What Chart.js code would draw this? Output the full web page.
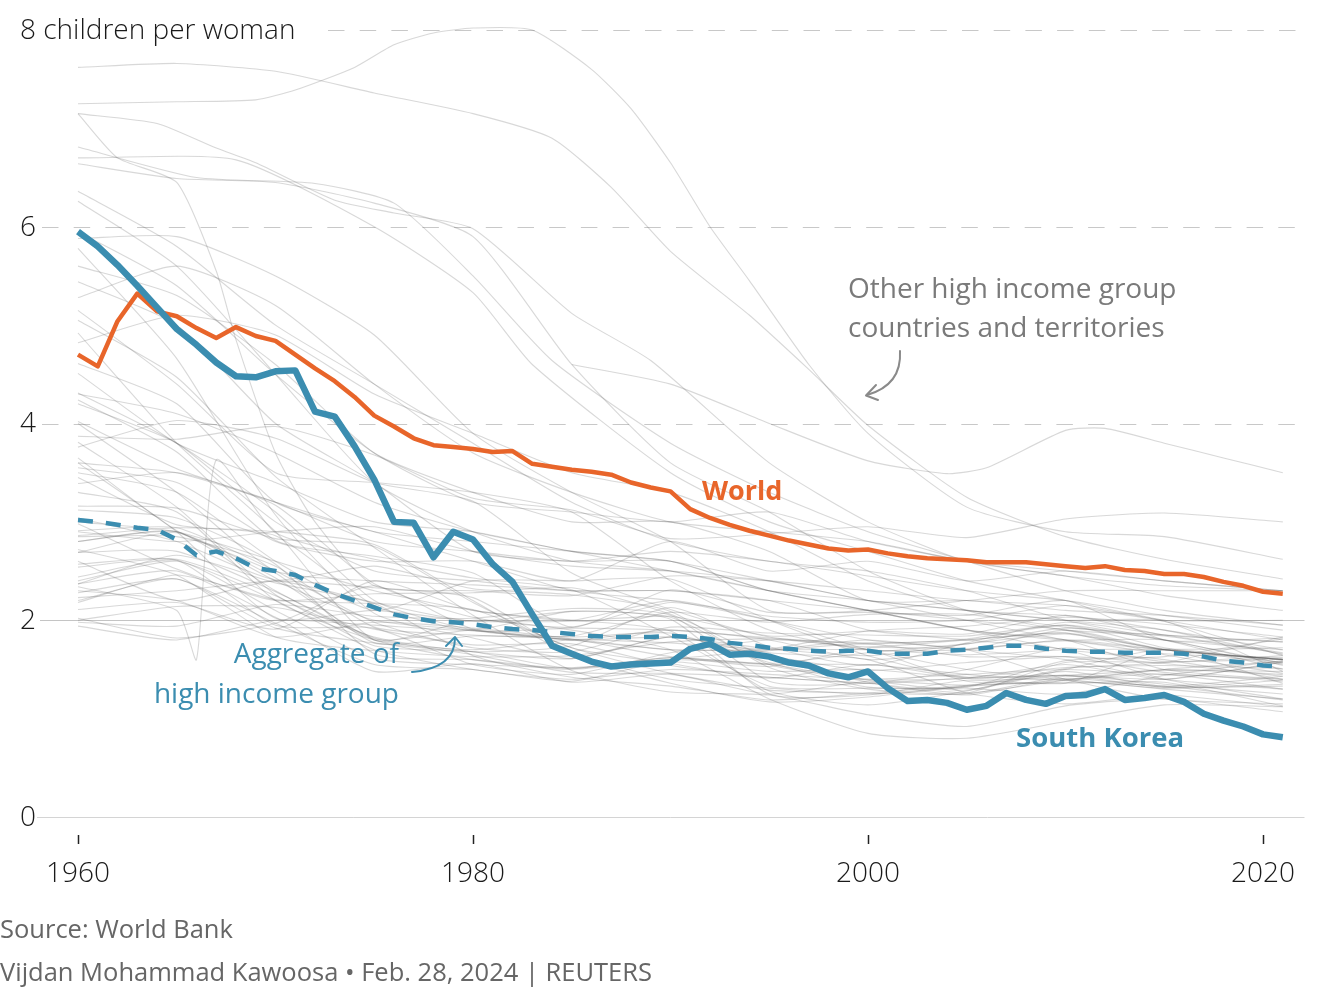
<!DOCTYPE html>
<html>
<head>
<meta charset="utf-8">
<script src="https://cdn.jsdelivr.net/npm/chart.js@4.4.1/dist/chart.umd.min.js"></script>
<style>
html,body{margin:0;padding:0;background:#fff;}
#wrap{position:relative;width:1320px;height:1000px;font-family:"Open Sans",sans-serif;overflow:hidden;}
#c{position:absolute;left:0;top:0;}
.t{position:absolute;white-space:nowrap;line-height:40px;height:40px;}
</style>
</head>
<body>
<div id="wrap">
<canvas id="c" width="1320" height="1000"></canvas>
<div class="t" style="left:848px;top:267px;font-size:28px;color:#7a7a7a;">Other high income group</div>
<div class="t" style="left:848px;top:306px;font-size:28px;color:#7a7a7a;">countries and territories</div>
<div class="t" style="left:702px;top:470px;font-size:27px;font-weight:700;color:#e8652a;">World</div>
<div class="t" style="left:1016px;top:717px;font-size:27.5px;font-weight:700;color:#3b8db0;">South Korea</div>
<div class="t" style="right:921px;top:632px;font-size:28px;color:#3b8db0;text-align:right;">Aggregate of</div>
<div class="t" style="right:921px;top:672px;font-size:28px;color:#3b8db0;text-align:right;">high income group</div>
<div class="t" style="left:0px;top:908px;font-size:25.5px;color:#666;">Source: World Bank</div>
<div class="t" style="left:0px;top:951px;font-size:25.5px;color:#666;">Vijdan Mohammad Kawoosa • Feb. 28, 2024 | REUTERS</div>
</div>
<script>
// ---------- DATA ----------
const years = [1960,1961,1962,1963,1964,1965,1966,1967,1968,1969,
               1970,1971,1972,1973,1974,1975,1976,1977,1978,1979,
               1980,1981,1982,1983,1984,1985,1986,1987,1988,1989,
               1990,1991,1992,1993,1994,1995,1996,1997,1998,1999,
               2000,2001,2002,2003,2004,2005,2006,2007,2008,2009,
               2010,2011,2012,2013,2014,2015,2016,2017,2018,2019,
               2020,2021];

const southKorea = [5.95,5.80,5.61,5.40,5.18,4.96,4.80,4.62,4.48,4.47,
                    4.53,4.54,4.12,4.07,3.77,3.43,3.00,2.99,2.64,2.90,
                    2.82,2.57,2.39,2.06,1.74,1.66,1.58,1.53,1.55,1.56,
                    1.57,1.71,1.76,1.65,1.66,1.63,1.57,1.54,1.46,1.42,
                    1.48,1.31,1.18,1.19,1.16,1.09,1.13,1.26,1.19,1.15,
                    1.23,1.24,1.30,1.19,1.21,1.24,1.17,1.05,0.98,0.92,
                    0.84,0.81];

const world = [4.70,4.58,5.04,5.32,5.14,5.09,4.97,4.87,4.98,4.89,
               4.84,4.70,4.56,4.43,4.27,4.08,3.97,3.85,3.78,3.76,
               3.74,3.71,3.72,3.59,3.56,3.53,3.51,3.48,3.40,3.35,
               3.31,3.13,3.04,2.97,2.91,2.86,2.81,2.77,2.73,2.71,
               2.72,2.68,2.65,2.63,2.62,2.61,2.59,2.59,2.59,2.57,
               2.55,2.53,2.55,2.51,2.50,2.47,2.47,2.44,2.39,2.35,
               2.29,2.27];

const highIncome = [3.02,3.00,2.97,2.94,2.92,2.82,2.66,2.70,2.63,2.53,
                    2.50,2.46,2.36,2.27,2.20,2.13,2.06,2.02,1.99,1.98,
                    1.96,1.93,1.91,1.90,1.88,1.86,1.84,1.83,1.83,1.83,
                    1.84,1.83,1.81,1.77,1.75,1.72,1.71,1.69,1.68,1.69,
                    1.69,1.66,1.66,1.66,1.69,1.70,1.72,1.74,1.74,1.71,
                    1.69,1.68,1.68,1.67,1.67,1.67,1.66,1.63,1.59,1.57,
                    1.54,1.53];

// other high income countries and territories, sampled every five years
const grayYears = [1960,1965,1970,1975,1980,1985,1990,1995,2000,2005,2010,2015,2021];
const otherCountries = [
  [2.00,2.14,2.13,1.91,1.75,1.76,1.54,1.42,1.36,1.26,1.39,1.45,1.30],
  [3.65,2.91,2.48,1.77,1.84,1.84,2.08,1.98,2.06,2.06,1.93,1.84,1.66],
  [2.69,2.89,2.43,1.81,1.90,1.80,1.83,1.71,1.64,1.76,1.92,1.80,1.56],
  [2.85,2.85,2.55,1.93,1.85,1.81,1.77,1.71,1.89,1.94,2.03,1.96,1.83],
  [2.37,2.50,2.03,1.48,1.56,1.37,1.45,1.25,1.38,1.34,1.39,1.50,1.58],
  [2.37,2.66,2.38,2.17,1.64,1.42,1.33,1.19,1.26,1.34,1.44,1.35,1.25],
  [2.86,2.94,2.90,2.77,2.20,1.64,1.36,1.17,1.22,1.33,1.37,1.33,1.19],
  [3.81,3.15,2.26,1.83,1.68,1.61,1.83,1.64,1.49,1.57,1.63,1.56,1.43],
  [3.45,2.97,2.86,2.15,1.89,1.92,1.90,1.82,1.76,1.81,1.95,1.80,1.70],
  [4.02,3.54,3.17,2.37,2.03,1.93,2.18,2.04,1.98,2.00,2.15,1.99,1.64],
  [3.12,3.04,2.57,1.66,1.60,1.51,1.62,1.53,1.72,1.71,1.79,1.66,1.62],
  [2.54,2.62,2.25,1.74,1.68,1.51,1.62,1.56,1.67,1.76,1.86,1.70,1.60],
  [2.20,2.42,1.92,1.77,1.68,1.74,2.13,1.73,1.54,1.77,1.98,1.85,1.67],
  [2.91,2.94,2.50,1.98,1.72,1.68,1.93,1.87,1.85,1.84,1.95,1.72,1.55],
  [2.57,2.61,1.95,1.92,1.55,1.45,1.67,1.80,1.77,1.80,1.87,1.71,1.72],
  [2.72,2.46,1.83,1.69,1.63,1.64,1.78,1.81,1.73,1.80,1.87,1.65,1.46],
  [4.24,3.71,2.81,2.65,2.48,1.93,2.31,2.08,2.08,2.05,2.20,1.80,1.82],
  [3.76,4.03,3.85,3.40,3.21,2.48,2.11,1.84,1.89,1.86,2.05,1.85,1.78],
  [2.69,2.70,2.29,1.82,1.65,1.47,1.46,1.42,1.36,1.41,1.44,1.49,1.48],
  [2.44,2.61,2.10,1.61,1.55,1.52,1.58,1.48,1.50,1.42,1.52,1.54,1.51],
  [3.16,3.14,2.83,2.75,2.18,1.72,1.56,1.41,1.55,1.41,1.39,1.31,1.35],
  [2.23,2.30,2.40,2.33,2.23,1.67,1.40,1.31,1.25,1.33,1.48,1.33,1.43],
  [3.87,3.84,3.97,3.68,3.24,3.12,2.83,2.88,2.95,2.84,3.03,3.09,3.00],
  [5.78,4.66,3.07,2.07,1.82,1.61,1.83,1.67,1.60,1.26,1.15,1.24,1.12],
  [5.05,4.47,3.46,2.74,2.05,1.49,1.27,1.24,1.04,0.92,1.13,1.20,1.07],
  [4.92,3.80,2.90,1.80,2.00,1.90,1.70,1.20,0.85,0.80,0.97,1.14,1.12],
  [2.11,2.18,1.91,2.40,2.10,2.00,1.89,1.28,1.14,1.28,1.51,1.57,1.83],
  [3.04,2.80,2.41,2.55,2.32,2.26,2.09,1.52,1.30,1.25,1.43,1.40,1.57],
  [2.02,1.82,1.97,2.35,1.91,1.83,1.87,1.57,1.32,1.31,1.25,1.44,1.59],
  [2.98,2.52,2.20,2.27,2.28,2.33,2.06,1.62,1.37,1.24,1.41,1.32,1.33],
  [2.30,2.20,1.83,1.98,1.92,1.81,1.63,1.55,1.40,1.41,1.55,1.40,1.58],
  [2.18,2.46,2.21,2.17,2.11,1.72,1.46,1.29,1.26,1.26,1.57,1.57,1.64],
  [1.98,1.94,2.16,2.04,2.02,2.12,2.05,1.38,1.36,1.50,1.72,1.58,1.61],
  [1.94,1.80,2.00,1.95,1.90,2.09,2.01,1.25,1.24,1.39,1.36,1.70,1.57],
  [2.60,2.20,2.40,2.18,1.99,2.09,2.03,1.55,1.39,1.29,1.50,1.70,1.36],
  [3.50,3.30,2.60,2.10,2.40,2.40,2.42,2.00,1.64,1.42,1.44,1.32,1.39],
  [3.60,2.90,2.02,2.10,1.99,1.99,2.04,1.83,1.70,1.38,1.36,1.37,1.13],
  [2.28,2.42,1.97,1.55,1.50,1.38,1.60,1.69,1.76,1.63,1.63,1.47,1.38],
  [5.44,5.00,4.00,3.40,2.70,2.60,2.60,2.30,2.10,1.90,1.80,1.80,1.54],
  [2.90,2.80,2.90,2.95,2.70,2.55,2.50,2.40,2.20,2.10,2.00,1.99,1.48],
  [5.28,5.60,5.20,4.40,3.70,3.30,3.00,2.90,2.80,2.60,2.50,2.40,2.30],
  [4.61,4.20,3.20,2.90,2.60,2.30,2.20,2.00,1.80,1.70,1.40,1.20,1.15],
  [5.15,4.40,3.50,3.40,3.30,3.10,2.40,1.90,1.70,1.70,1.80,1.70,1.60],
  [4.31,3.80,3.10,2.20,1.90,1.80,1.70,1.70,1.70,1.65,1.70,1.70,1.60],
  [4.51,3.80,3.40,3.00,2.90,2.70,2.60,2.30,2.10,1.90,1.80,1.50,1.40],
  [4.00,3.30,2.50,2.40,2.36,2.30,2.30,2.20,1.90,1.80,1.70,1.40,1.20],
  [6.64,6.49,6.45,6.24,5.90,4.60,3.60,3.10,2.50,2.10,1.90,1.85,1.78],
  [4.82,5.10,4.90,4.30,3.90,3.50,3.30,2.90,2.40,2.10,2.05,1.90,1.65],
  [3.39,3.50,3.20,2.80,2.70,2.60,2.70,2.60,2.45,2.30,2.20,2.05,1.90],
  [3.55,3.40,2.80,2.60,2.60,2.40,2.80,2.50,2.60,2.40,2.50,2.40,2.30],
  [3.30,3.10,2.20,1.80,1.70,1.80,1.70,1.70,1.80,1.70,1.60,1.40,1.30],
  [6.36,5.80,5.00,4.40,3.80,3.20,2.80,2.60,2.50,2.30,2.00,1.80,1.50],
  [6.26,5.60,4.50,3.40,2.90,2.60,2.50,2.30,2.10,1.90,1.70,1.60,1.40],
  [4.30,4.10,3.70,3.20,2.90,2.70,2.50,2.30,2.20,2.10,2.00,1.90,1.70],
  [5.95,5.40,4.50,3.70,3.20,3.10,3.00,3.10,2.80,2.60,2.45,2.35,2.30],
  [5.60,5.30,4.60,3.70,3.30,3.00,3.00,2.70,2.20,2.20,2.10,2.05,1.95],
  [4.20,3.80,3.00,2.50,2.40,2.30,2.30,2.20,2.10,2.00,1.90,1.70,1.60],
  [3.00,2.90,2.60,2.30,2.10,2.00,2.20,2.00,1.70,1.50,1.40,1.30,1.20],
  [2.80,2.90,2.40,2.00,1.90,1.80,1.90,1.80,1.60,1.70,1.90,1.70,1.60],
  [2.40,2.60,2.20,1.70,1.50,1.40,1.50,1.45,1.40,1.45,1.50,1.45,1.40],
  [2.80,2.90,2.30,1.80,1.60,1.50,1.60,1.55,1.55,1.45,1.40,1.50,1.45],
  [3.60,3.50,3.20,2.90,2.80,2.70,2.60,2.40,2.20,2.00,1.80,1.70,1.60],
  [5.88,5.90,5.50,4.90,3.90,3.30,2.80,2.10,2.10,2.20,2.30,2.30,2.30]
];

// distinctive lines with their own sampling years
const lineAYears = [1960,1965,1970,1975,1980,1984,1987,1990,1994,1997,2000,2005,2010,2015,2021];
const lineA      = [7.62,7.66,7.58,7.36,7.15,6.90,6.40,5.75,5.10,4.55,3.98,3.25,2.85,2.62,2.42];
const lineBYears = [1960,1965,1969,1971,1974,1976,1978,1980,1983,1986,1988,1990,1992,1994,1997,2000,2005,2010,2015,2021];
const lineB      = [7.25,7.27,7.29,7.39,7.62,7.85,7.97,8.02,8.00,7.60,7.20,6.65,6.00,5.45,4.60,3.90,3.15,2.90,2.85,2.62];
const lineCYears = [1960,1962,1965,1967,1968,1970,1972,1975,1980,1985,1990,1995,2000,2005,2010,2015,2021];
const lineC      = [7.15,6.70,6.45,5.55,4.85,3.70,3.00,2.35,2.30,2.25,2.45,2.40,2.30,2.20,2.15,2.00,2.00];
const lineDYears = [1960,1964,1967,1969,1973,1976,1980,1985,1989,1995,2000,2005,2010,2015,2021];
const lineD      = [7.15,7.05,6.80,6.65,6.27,6.14,5.98,5.12,4.64,3.60,3.00,2.60,2.45,2.25,2.10];
const lineEYears = [1960,1966,1972,1976,1980,1984,1990,1995,2000,2005,2010,2015,2021];
const lineE      = [6.81,6.50,6.44,6.24,5.50,4.64,3.80,3.30,2.90,2.60,2.30,2.10,1.95];
const lineFYears = [1960,1968,1975,1980,1983,1990,1995,2000,2005,2010,2015,2021];
const lineF      = [6.70,6.68,6.00,5.33,4.60,3.50,3.00,2.70,2.40,2.20,2.00,1.80];
const lineGYears = [1985,1990,1995,2000,2004,2006,2010,2012,2015,2018,2021];
const lineG      = [4.60,4.40,4.00,3.62,3.49,3.55,3.93,3.95,3.80,3.65,3.50];
const romaniaYears = [1960,1965,1966,1967,1970,1975,1980,1985,1990,1995,2000,2005,2010,2015,2021];
const romania      = [2.34,2.10,1.60,3.63,2.89,2.62,2.43,2.31,1.84,1.33,1.31,1.32,1.59,1.63,1.81];

const xTicks = [1960,1980,2000,2020];
const yTicks = [0,2,4,6,8];
const yTitle = 'children per woman';

// ---------- COLOURS ----------
const BLUE = '#3b8db0';
const ORANGE = '#e8652a';
const GRAY = 'rgba(85,85,85,0.23)';

function pts(xs, ys){ return xs.map((x,i)=>({x:x, y:ys[i]})); }

const grayDatasets = [];
otherCountries.forEach(v => grayDatasets.push(pts(grayYears, v)));
[[lineAYears,lineA],[lineBYears,lineB],[lineCYears,lineC],[lineDYears,lineD],
 [lineEYears,lineE],[lineFYears,lineF],[lineGYears,lineG],[romaniaYears,romania]]
 .forEach(p => grayDatasets.push(pts(p[0], p[1])));

const datasets = [
  {data: pts(years, southKorea), borderColor: BLUE, borderWidth: 6.5, order: 0},
  {data: pts(years, world), borderColor: ORANGE, borderWidth: 4.5, order: 1},
  {data: pts(years, highIncome), borderColor: BLUE, borderWidth: 4.5, borderDash: [15,13], order: 2}
].concat(grayDatasets.map(d => ({data: d, borderColor: GRAY, borderWidth: 1.1, tension: 0.2, order: 3})));

datasets.forEach(d => {
  d.pointRadius = 0; d.pointHoverRadius = 0; d.fill = false; d.clip = false;
  d.borderJoinStyle = 'round'; d.borderCapStyle = 'butt';
});

// horizontal reference lines drawn with the y scale
const hGrid = {
  id: 'hGrid',
  beforeDatasetsDraw(chart) {
    const {ctx, scales:{y}, chartArea} = chart;
    ctx.save();
    yTicks.forEach(v => {
      const py = Math.round(y.getPixelForValue(v)) + 0.5;
      ctx.beginPath();
      ctx.lineWidth = 1;
      let x0 = 42;
      if (v === 0) { ctx.strokeStyle = '#d4d4d4'; ctx.setLineDash([]); x0 = 37; }
      else if (v === 2) { ctx.strokeStyle = '#c4c4c4'; ctx.setLineDash([]); x0 = 40; }
      else { ctx.strokeStyle = '#c8c8c8'; ctx.setLineDash([16.5,15.2]); }
      if (v === 8) x0 = 328;
      ctx.moveTo(x0, py);
      ctx.lineTo(chartArea.right, py);
      ctx.stroke();
    });
    ctx.restore();
  },
  afterDatasetsDraw(chart) {
    const {ctx, scales:{y}} = chart;
    ctx.save();
    ctx.font = '300 28px "Open Sans"';
    ctx.fillStyle = '#1a1a1a';
    ctx.textAlign = 'left';
    ctx.textBaseline = 'middle';
    yTicks.forEach(v => {
      const label = v === 8 ? v + ' ' + yTitle : String(v);
      ctx.fillText(label, 20, y.getPixelForValue(v) + 1);
    });
    ctx.restore();
  }
};

// annotation arrows
const arrows = {
  id: 'arrows',
  afterDraw(chart) {
    const ctx = chart.ctx;
    ctx.save();
    ctx.lineWidth = 2; ctx.lineCap = 'round'; ctx.lineJoin = 'round';
    ctx.strokeStyle = '#8a8a8a';
    ctx.beginPath();
    ctx.moveTo(900, 351);
    ctx.quadraticCurveTo(902, 385, 867, 395);
    ctx.stroke();
    ctx.beginPath();
    ctx.moveTo(876, 385); ctx.lineTo(866, 395.5); ctx.lineTo(878, 400);
    ctx.stroke();
    ctx.strokeStyle = BLUE;
    ctx.beginPath();
    ctx.moveTo(412, 672);
    ctx.quadraticCurveTo(455, 668, 455, 638);
    ctx.stroke();
    ctx.beginPath();
    ctx.moveTo(446, 646); ctx.lineTo(455, 637); ctx.lineTo(462, 646);
    ctx.stroke();
    ctx.restore();
  }
};

new Chart(document.getElementById('c'), {
  type: 'line',
  data: {datasets: datasets},
  plugins: [hGrid, arrows],
  options: {
    responsive: false,
    devicePixelRatio: 1,
    animation: false,
    events: [],
    layout: {padding: {left: 20, right: 15.5, top: 30, bottom: 93}},
    plugins: {legend: {display: false}, tooltip: {enabled: false}},
    scales: {
      x: {
        type: 'linear', min: 1958, max: 2022.1,
        afterBuildTicks: s => { s.ticks = xTicks.map(v => ({value: v})); },
        afterFit: s => { s.height = 90; },
        border: {display: false},
        grid: {display: true, drawOnChartArea: false, drawTicks: true, tickLength: 27,
               tickColor: '#222', tickWidth: 1.5, tickBorderDash: [9,18], tickBorderDashOffset: 9},
        ticks: {autoSkip: false, maxRotation: 0, padding: 13, color: '#1a1a1a',
                font: {family: 'Open Sans', size: 28, weight: 300},
                callback: v => String(v)}
      },
      y: {
        type: 'linear', min: 0, max: 8,
        afterBuildTicks: s => { s.ticks = yTicks.map(v => ({value: v})); },
        afterFit: s => { s.width = 18.5; },
        border: {display: false},
        grid: {display: false},
        ticks: {display: false}
      }
    }
  }
});
</script>
</body>
</html>
